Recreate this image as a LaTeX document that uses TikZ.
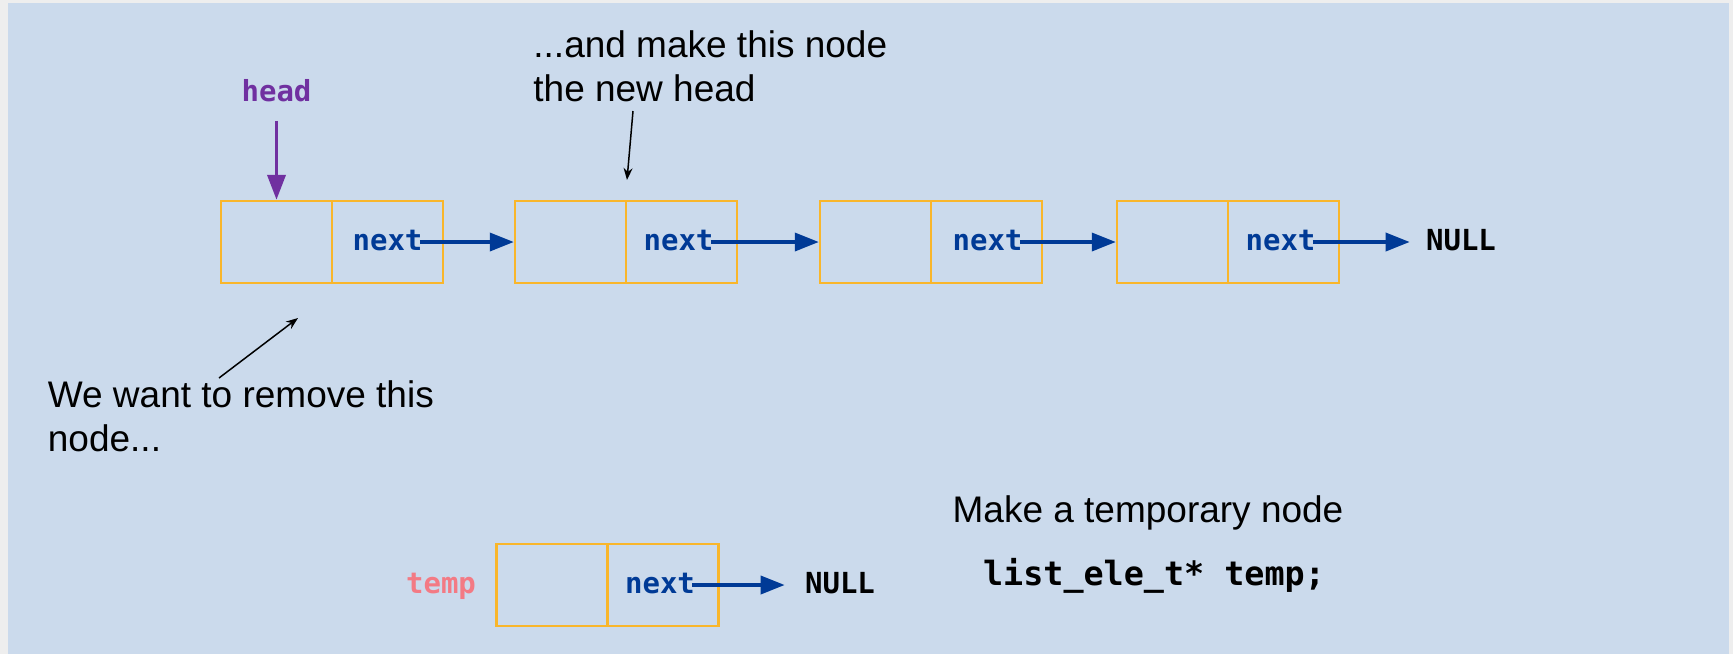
\documentclass[tikz,border=0pt]{standalone}
\usepackage{fontspec}
\setmainfont{Liberation Sans}
\newfontfamily\codefont{DejaVu Sans Mono}
\usetikzlibrary{arrows.meta,calc}

\definecolor{pagegray}{HTML}{EEEEEE}
\definecolor{panelblue}{HTML}{CBDAEC}
\definecolor{cellorange}{HTML}{F9B62B}
\definecolor{linkblue}{HTML}{003A96}
\definecolor{headpurple}{HTML}{7030A0}
\definecolor{temppink}{HTML}{F37A84}

\begin{document}
\begin{tikzpicture}[x=0.5pt,y=-0.5pt,
  cell/.style={draw=cellorange, line width=1.2pt, minimum width=55.5pt,
    minimum height=41pt, inner sep=0pt},
  codelabel/.style={font=\codefont\bfseries\fontsize{14.5}{16}\selectfont,
    inner sep=0pt, anchor=base},
  ptrtext/.style={codelabel, text=linkblue},
  nulltext/.style={codelabel, text=black},
  link/.style={draw=linkblue, line width=1.8pt,
    -{Triangle[length=12pt,width=9pt]}},
  headlink/.style={draw=headpurple, line width=1.9pt,
    -{Triangle[length=12.5pt,width=9pt]}},
  note/.style={font=\fontsize{18.5}{22}\selectfont, align=left, inner sep=0pt},
  notearrow/.style={draw=black, line width=0.75pt,
    -{Stealth[length=6pt,width=4.5pt]}}
]
\useasboundingbox[fill=pagegray] (0,0) rectangle (1733,654);
\fill[panelblue] (8,3) rectangle (1729,654);

% the list: data cell and next cell of each element
\node[cell] (n1d) at (276.5,242) {};
\node[cell] (n1n) at (387.5,242) {};
\node[cell] (n2d) at (570.5,242) {};
\node[cell] (n2n) at (681.5,242) {};
\node[cell] (n3d) at (875.5,242) {};
\node[cell] (n3n) at (986.5,242) {};
\node[cell] (n4d) at (1172.5,242) {};
\node[cell] (n4n) at (1283.5,242) {};

\node[ptrtext] (p1) at (387.5,250) {next};
\node[ptrtext] (p2) at (678.5,250) {next};
\node[ptrtext] (p3) at (987.5,250) {next};
\node[ptrtext] (p4) at (1280.5,250) {next};
\node[nulltext] (null1) at (1461,250) {NULL};

\draw[link] ([xshift=-1.5pt]p1.east |- n1n.center) -- (n2d.west);
\draw[link] ([xshift=-1.5pt]p2.east |- n2n.center) -- (n3d.west);
\draw[link] ([xshift=-1.5pt]p3.east |- n3n.center) -- (n4d.west);
\draw[link, shorten >=8pt] ([xshift=-1.5pt]p4.east |- n4n.center) -- (null1.west |- n4n.center);

% head pointer
\node[codelabel, text=headpurple] (head) at (276.5,101) {head};
\draw[headlink, shorten <=9.5pt] (head.south) -- (n1d.north);

% annotations
\node[note, anchor=north west] (nh) at (533,30) {...and make this node\\the new head};
\coordinate (nhfrom) at (633,111);
\coordinate (nhto) at (627,180);
\draw[notearrow] (nhfrom) -- (nhto);

\node[note, anchor=north west] (rm) at (47.5,380) {We want to remove this\\node...};
\coordinate (rmfrom) at (219,378);
\coordinate (rmto) at (298,318);
\draw[notearrow] (rmfrom) -- (rmto);

% temporary element
\node[codelabel, text=temppink] (temp) at (441,593) {temp};
\node[cell] (td) at (552,585) {};
\node[cell] (tn) at (663,585) {};
\node[ptrtext] (tp) at (660,593) {next};
\node[nulltext] (null2) at (840,593) {NULL};
\draw[link, shorten >=10pt] ([xshift=-1.5pt]tp.east |- tn.center) -- (null2.west |- tn.center);

\node[font=\fontsize{18.5}{22}\selectfont, inner sep=0pt, anchor=base]
  (mk) at (1148,522.7) {Make a temporary node};
\node[font=\codefont\bfseries\fontsize{16.7}{20}\selectfont, inner sep=0pt,
  anchor=base] (decl) at (1154,585) {list\_ele\_t* temp;};
\end{tikzpicture}
\end{document}
